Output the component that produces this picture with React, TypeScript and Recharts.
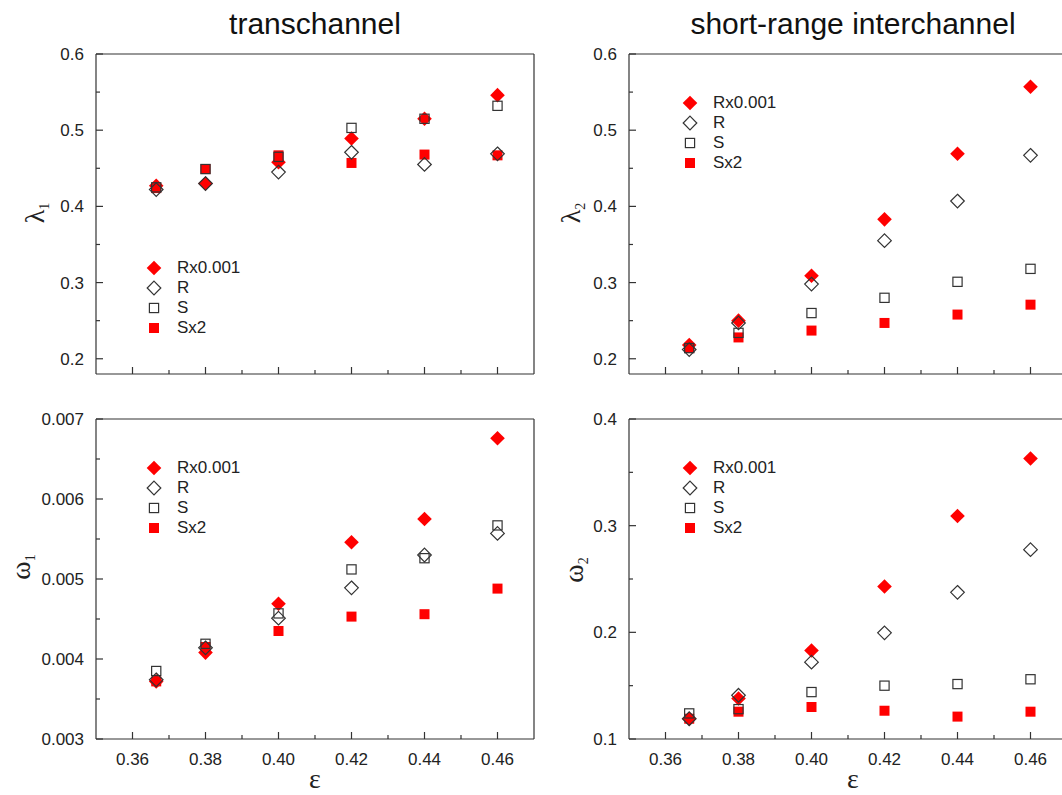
import React from 'react';
import { ScatterChart, Scatter, XAxis, YAxis, Legend } from 'recharts';

// epsilon values (x) shared by all four panels
const EPS = [0.3665, 0.38, 0.4, 0.42, 0.44, 0.46];
const X_TICKS = [0.36, 0.37, 0.38, 0.39, 0.4, 0.41, 0.42, 0.43, 0.44, 0.45, 0.46];
const LAMBDA_TICKS = [0.2, 0.25, 0.3, 0.35, 0.4, 0.45, 0.5, 0.55, 0.6];
const OMEGA1_TICKS = [0.003, 0.0035, 0.004, 0.0045, 0.005, 0.0055, 0.006, 0.0065, 0.007];
const OMEGA2_TICKS = [0.1, 0.15, 0.2, 0.25, 0.3, 0.35, 0.4];

const SERIES_NAMES = ['Rx0.001', 'R', 'S', 'Sx2'];

// transchannel, lambda_1
const L1_RX = [0.427, 0.43, 0.458, 0.489, 0.515, 0.546];
const L1_R = [0.422, 0.43, 0.445, 0.471, 0.455, 0.469];
const L1_S = [0.425, 0.449, 0.465, 0.503, 0.515, 0.532];
const L1_SX2 = [0.424, 0.449, 0.467, 0.457, 0.468, 0.467];

// short-range interchannel, lambda_2
const L2_RX = [0.218, 0.25, 0.309, 0.383, 0.469, 0.557];
const L2_R = [0.212, 0.247, 0.298, 0.355, 0.407, 0.467];
const L2_S = [0.214, 0.234, 0.26, 0.28, 0.301, 0.318];
const L2_SX2 = [0.214, 0.228, 0.237, 0.247, 0.258, 0.271];

// transchannel, omega_1
const W1_RX = [0.00372, 0.00408, 0.00469, 0.00546, 0.00575, 0.00676];
const W1_R = [0.00374, 0.00414, 0.00451, 0.00489, 0.0053, 0.00557];
const W1_S = [0.00385, 0.00419, 0.00457, 0.00512, 0.00526, 0.00567];
const W1_SX2 = [0.00372, 0.00415, 0.00435, 0.00453, 0.00456, 0.00488];

// short-range interchannel, omega_2
const W2_RX = [0.119, 0.138, 0.183, 0.243, 0.309, 0.363];
const W2_R = [0.119, 0.141, 0.172, 0.1995, 0.2375, 0.2775];
const W2_S = [0.124, 0.128, 0.144, 0.15, 0.1515, 0.156];
const W2_SX2 = [0.119, 0.1256, 0.13, 0.1265, 0.121, 0.1256];

const RED = '#ff0000';
const INK = '#333';
const SANS = '"Liberation Sans", Arial, sans-serif';
const SERIF = '"Liberation Serif", "Times New Roman", serif';

const AXIS_W = 70;
const TOP_PAD = 14;
const PLOT_W = 438;
const PLOT_H = 320;
const CHART_W = AXIS_W + PLOT_W + 1 + 4;
const CHART_H = TOP_PAD + 1 + PLOT_H + 40;

const FilledDiamond = ({ cx, cy }: any) => (
  <path d={`M${cx},${cy - 7.3}L${cx + 7.3},${cy}L${cx},${cy + 7.3}L${cx - 7.3},${cy}Z`} fill={RED} />
);
const OpenDiamond = ({ cx, cy }: any) => (
  <path d={`M${cx},${cy - 6.8}L${cx + 6.8},${cy}L${cx},${cy + 6.8}L${cx - 6.8},${cy}Z`} fill="none" stroke={INK} strokeWidth={1.2} />
);
const OpenSquare = ({ cx, cy }: any) => (
  <rect x={cx - 4.6} y={cy - 4.6} width={9.2} height={9.2} fill="none" stroke={INK} strokeWidth={1.2} />
);
const FilledSquare = ({ cx, cy }: any) => (
  <rect x={cx - 5} y={cy - 5} width={10} height={10} fill={RED} />
);

const SHAPES: Record<string, any> = {
  'Rx0.001': FilledDiamond,
  R: OpenDiamond,
  S: OpenSquare,
  Sx2: FilledSquare,
};

const isMajor = (v: number, step: number) => Math.abs(v / step - Math.round(v / step)) < 1e-6;

const LegendBox = () => (
  <div style={{ fontFamily: SANS, fontSize: 17, color: '#222' }}>
    {SERIES_NAMES.map((name) => {
      const Shape = SHAPES[name];
      return (
        <div key={name} style={{ display: 'flex', alignItems: 'center', height: 20 }}>
          <svg width={20} height={20} style={{ overflow: 'visible' }}>
            <Shape cx={10} cy={10} />
          </svg>
          <span style={{ marginLeft: 13, lineHeight: '20px' }}>{name}</span>
        </div>
      );
    })}
  </div>
);

interface PanelProps {
  plotLeft: number;
  plotTop: number;
  yDomain: [number, number];
  yTicks: number[];
  yStep: number;
  yDigits: number;
  rx: number[];
  r: number[];
  s: number[];
  sx2: number[];
  xLabels: boolean;
  legendTop: number;
  legendLeft: number;
}

const Panel: React.FC<PanelProps> = ({ plotLeft, plotTop, yDomain, yTicks, yStep, yDigits, rx, r, s, sx2, xLabels, legendTop, legendLeft }) => {
  const points = (vals: number[]) => EPS.map((x, i) => ({ x, y: vals[i] }));
  const lineStyle = { stroke: INK, strokeWidth: 1.2 };

  return (
    <div style={{ position: 'absolute', left: plotLeft - AXIS_W, top: plotTop - TOP_PAD - 1 }}>
      <ScatterChart width={CHART_W} height={CHART_H} margin={{ top: TOP_PAD, right: 4, bottom: 0, left: 0 }}>
        <XAxis
          xAxisId="b"
          type="number"
          dataKey="x"
          orientation="bottom"
          domain={[0.35, 0.47]}
          ticks={X_TICKS}
          interval={0}
          height={40}
          axisLine={lineStyle}
          tickLine={false}
          tickSize={0}
          tickMargin={0}
          tick={(p: any) => {
            const v = p.payload.value;
            const major = isMajor(v, 0.02);
            return (
              <g>
                <line x1={p.x} x2={p.x} y1={p.y} y2={p.y - (major ? 7 : 4)} {...lineStyle} />
                {major && xLabels && (
                  <text x={p.x} y={p.y + 26} textAnchor="middle" fontFamily={SANS} fontSize={17} fill="#222">
                    {v.toFixed(2)}
                  </text>
                )}
              </g>
            );
          }}
        />
        <XAxis
          xAxisId="t"
          type="number"
          orientation="top"
          domain={[0.35, 0.47]}
          ticks={X_TICKS}
          interval={0}
          height={1}
          axisLine={lineStyle}
          tickLine={false}
          tickSize={0}
          tickMargin={0}
          tick={(p: any) => {
            const major = isMajor(p.payload.value, 0.02);
            return <line x1={p.x} x2={p.x} y1={p.y} y2={p.y + (major ? 7 : 4)} {...lineStyle} />;
          }}
        />
        <YAxis
          yAxisId="l"
          type="number"
          dataKey="y"
          domain={yDomain}
          ticks={yTicks}
          interval={0}
          width={AXIS_W}
          axisLine={lineStyle}
          tickLine={false}
          tickSize={0}
          tickMargin={0}
          tick={(p: any) => {
            const v = p.payload.value;
            const major = isMajor(v, yStep);
            return (
              <g>
                <line x1={p.x} x2={p.x + (major ? 7 : 4)} y1={p.y} y2={p.y} {...lineStyle} />
                {major && (
                  <text x={p.x - 12} y={p.y} dy={6} textAnchor="end" fontFamily={SANS} fontSize={17} fill="#222">
                    {v.toFixed(yDigits)}
                  </text>
                )}
              </g>
            );
          }}
        />
        <YAxis
          yAxisId="r"
          type="number"
          orientation="right"
          domain={yDomain}
          ticks={yTicks}
          interval={0}
          width={1}
          axisLine={lineStyle}
          tickLine={false}
          tickSize={0}
          tickMargin={0}
          tick={(p: any) => {
            const major = isMajor(p.payload.value, yStep);
            return <line x1={p.x} x2={p.x - (major ? 7 : 4)} y1={p.y} y2={p.y} {...lineStyle} />;
          }}
        />
        <Legend
          layout="vertical"
          align="center"
          verticalAlign="middle"
          content={() => <LegendBox />}
          wrapperStyle={{ top: legendTop + TOP_PAD - 4, left: legendLeft, width: 'auto', height: 'auto' }}
        />
        <Scatter xAxisId="b" yAxisId="l" name="Sx2" data={points(sx2)} shape={FilledSquare} isAnimationActive={false} />
        <Scatter xAxisId="b" yAxisId="l" name="Rx0.001" data={points(rx)} shape={FilledDiamond} isAnimationActive={false} />
        <Scatter xAxisId="b" yAxisId="l" name="S" data={points(s)} shape={OpenSquare} isAnimationActive={false} />
        <Scatter xAxisId="b" yAxisId="l" name="R" data={points(r)} shape={OpenDiamond} isAnimationActive={false} />
      </ScatterChart>
    </div>
  );
};

const GreekLabel = ({ x, y, sym, sub }: { x: number; y: number; sym: string; sub: string }) => (
  <text transform={`translate(${x},${y}) rotate(-90)`} textAnchor="middle" fontFamily={SERIF} fontSize={28} fill="#222">
    {sym}
    <tspan fontSize={14} dy={5}>{sub}</tspan>
  </text>
);

const App: React.FC = () => {
  return (
    <div style={{ position: 'absolute', left: 0, top: 0, width: 1062, height: 795, overflow: 'hidden', background: '#fff' }}>
      <Panel
        plotLeft={96} plotTop={54} yDomain={[0.18, 0.6]} yTicks={LAMBDA_TICKS} yStep={0.1} yDigits={1}
        rx={L1_RX} r={L1_R} s={L1_S} sx2={L1_SX2} xLabels={false} legendTop={209} legendLeft={118}
      />
      <Panel
        plotLeft={629} plotTop={54} yDomain={[0.18, 0.6]} yTicks={LAMBDA_TICKS} yStep={0.1} yDigits={1}
        rx={L2_RX} r={L2_R} s={L2_S} sx2={L2_SX2} xLabels={false} legendTop={44} legendLeft={121}
      />
      <Panel
        plotLeft={96} plotTop={419} yDomain={[0.003, 0.007]} yTicks={OMEGA1_TICKS} yStep={0.001} yDigits={3}
        rx={W1_RX} r={W1_R} s={W1_S} sx2={W1_SX2} xLabels={true} legendTop={44} legendLeft={118}
      />
      <Panel
        plotLeft={629} plotTop={419} yDomain={[0.1, 0.4]} yTicks={OMEGA2_TICKS} yStep={0.1} yDigits={1}
        rx={W2_RX} r={W2_R} s={W2_S} sx2={W2_SX2} xLabels={true} legendTop={44} legendLeft={121}
      />
      <svg width={1062} height={795} style={{ position: 'absolute', left: 0, top: 0, pointerEvents: 'none' }}>
        <text x={315} y={34} textAnchor="middle" fontFamily={SANS} fontSize={30} fill="#111">transchannel</text>
        <text x={853} y={34} textAnchor="middle" fontFamily={SANS} fontSize={30} fill="#111">short-range interchannel</text>
        <GreekLabel x={44} y={213} sym="λ" sub="1" />
        <GreekLabel x={580} y={213} sym="λ" sub="2" />
        <GreekLabel x={30} y={567} sym="ω" sub="1" />
        <GreekLabel x={583} y={570} sym="ω" sub="2" />
        <text x={315} y={788} textAnchor="middle" fontFamily={SERIF} fontSize={28} fill="#222">ε</text>
        <text x={853} y={788} textAnchor="middle" fontFamily={SERIF} fontSize={28} fill="#222">ε</text>
      </svg>
    </div>
  );
};

export default App;
